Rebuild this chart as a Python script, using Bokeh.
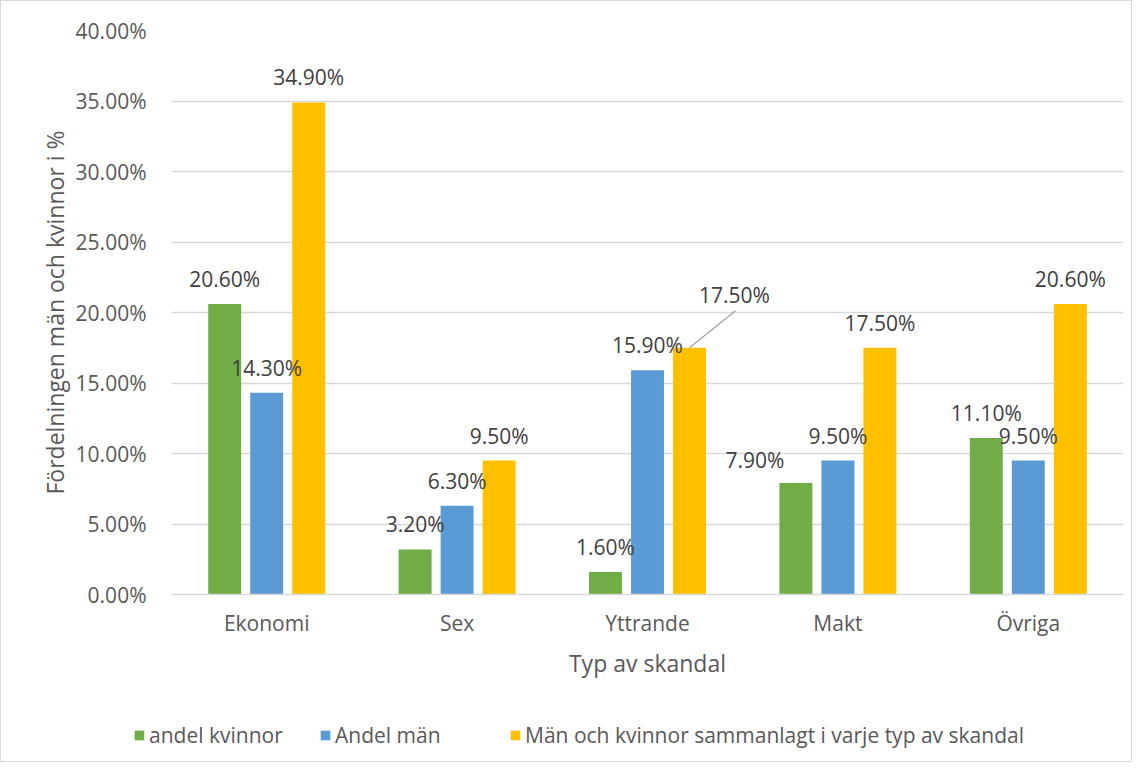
import numpy as np
from bokeh.plotting import figure
from bokeh.layouts import column
from bokeh.models import (ColumnDataSource, Range1d, FixedTicker, NumeralTickFormatter,
                          LabelSet, Legend, LegendItem)
from bokeh.core.properties import value
from bokeh.embed import file_html
from bokeh.resources import INLINE

# ---- data ----
categories = ["Ekonomi", "Sex", "Yttrande", "Makt", "Övriga"]
series_names = ["andel kvinnor", "Andel män",
                "Män och kvinnor sammanlagt i varje typ av skandal"]
andel_kvinnor = [0.206, 0.032, 0.016, 0.079, 0.111]
andel_man = [0.143, 0.063, 0.159, 0.095, 0.095]
sammanlagt = [0.349, 0.095, 0.175, 0.175, 0.206]
y_ticks = [0.0, 0.05, 0.10, 0.15, 0.20, 0.25, 0.30, 0.35, 0.40]

# ---- style ----
colors = ["#70AD47", "#5B9BD5", "#FFC000"]
group_offsets = [-0.2206, 0.0, 0.2206]
bar_width = 0.173
FONT = "Open Sans"
AXIS_COL = "#595959"
LABEL_COL = "#404040"
# label nudges in screen px: (series, category) -> (dx, dy)
label_nudge = {(0, 3): (-41, 23), (2, 2): (45, 53)}
leader = (2, 2)  # label with a leader line

W, H = 1130, 700
ML, MR, MT, MB = 170, 8, 29, 107
frame_w = W - ML - MR
frame_h = H - MT - MB
px_per_x = frame_w / len(categories)
px_per_y = frame_h / (y_ticks[-1] - y_ticks[0])

p = figure(width=W, height=H, x_range=Range1d(0, len(categories)),
           y_range=Range1d(y_ticks[0], y_ticks[-1]),
           output_backend="svg", toolbar_location=None,
           min_border_left=ML, min_border_right=MR,
           min_border_top=MT, min_border_bottom=MB)
p.outline_line_color = None
p.background_fill_color = "white"
p.border_fill_color = "white"

# ---- legend strip below the chart (its view is outside the data) ----
lg_fig = figure(width=W, height=60, x_range=Range1d(-30, -29), y_range=Range1d(-30, -29),
                output_backend="svg", toolbar_location=None,
                x_axis_location=None, y_axis_location=None, min_border=0)
lg_fig.frame_align = False
lg_fig.outline_line_color = None
lg_fig.xgrid.grid_line_color = None
lg_fig.ygrid.grid_line_color = None

series_vals = [andel_kvinnor, andel_man, sammanlagt]
legend_x = [132, 318, 508]
for s, vals in enumerate(series_vals):
    xs = np.arange(len(categories)) + 0.5 + group_offsets[s]
    dx = [label_nudge.get((s, c), (0, 25))[0] for c in range(len(categories))]
    dy = [label_nudge.get((s, c), (0, 25))[1] for c in range(len(categories))]
    src = ColumnDataSource(dict(x=xs, top=vals,
                                label=[f"{v*100:.2f}%" for v in vals],
                                dx=dx, dy=dy))
    p.vbar(x="x", top="top", width=bar_width, source=src,
           fill_color=colors[s], line_color=None)
    labels = LabelSet(x="x", y="top", text="label", x_offset="dx", y_offset="dy",
                      source=src, text_align="center", text_baseline="middle",
                      text_font=value(FONT), text_font_size="21px",
                      text_color=LABEL_COL)
    p.add_layout(labels)

    proxy = lg_fig.vbar(x="x", top="top", width=bar_width, source=src,
                        fill_color=colors[s], line_color=None)
    lg = Legend(items=[LegendItem(label=series_names[s], renderers=[proxy])],
                location=(legend_x[s], 12), orientation="horizontal",
                border_line_color=None, background_fill_alpha=0,
                padding=0, margin=0, glyph_width=12, glyph_height=12,
                label_standoff=4, label_text_font=FONT,
                label_text_font_size="21px", label_text_color=AXIS_COL)
    lg_fig.add_layout(lg)

# leader line for the moved label
ls, lc = leader
x0 = lc + 0.5 + group_offsets[ls]
y0 = series_vals[ls][lc]
ndx, ndy = label_nudge[leader]
x1 = x0 + (ndx + 1) / px_per_x
y1 = y0 + (ndy - 16) / px_per_y
p.segment(x0=[x0], y0=[y0], x1=[x1], y1=[y1], line_color="#A6A6A6", line_width=1.5)

# axes
p.xaxis.ticker = FixedTicker(ticks=[i + 0.5 for i in range(len(categories))])
p.xaxis.major_label_overrides = {i + 0.5: c for i, c in enumerate(categories)}
p.xaxis.major_tick_line_color = None
p.xaxis.minor_tick_line_color = None
p.xaxis.axis_line_color = "#D9D9D9"
p.xaxis.axis_line_width = 1.5
p.xaxis.major_label_standoff = 8
p.xaxis.axis_label = "Typ av skandal"
p.xaxis.axis_label_standoff = 7

p.yaxis.ticker = FixedTicker(ticks=y_ticks)
p.yaxis.formatter = NumeralTickFormatter(format="0.00%")
p.yaxis.major_tick_line_color = None
p.yaxis.minor_tick_line_color = None
p.yaxis.axis_line_color = None
p.yaxis.major_label_standoff = 19
p.yaxis.axis_label = "Fördelningen män och kvinnor i %"
p.yaxis.axis_label_standoff = 2

for ax in (p.xaxis, p.yaxis):
    ax.major_label_text_font = FONT
    ax.major_label_text_font_size = "21px"
    ax.major_label_text_color = AXIS_COL
    ax.axis_label_text_font = FONT
    ax.axis_label_text_font_size = "23px"
    ax.axis_label_text_font_style = "normal"
    ax.axis_label_text_color = AXIS_COL

p.xgrid.grid_line_color = None
p.ygrid.grid_line_color = "#D9D9D9"
p.ygrid.grid_line_width = 1.5

layout = column(p, lg_fig, spacing=0,
                styles={"border": "1px solid #d9d9d9", "background-color": "white"})

open("out.html", "w").write(file_html(layout, INLINE))
